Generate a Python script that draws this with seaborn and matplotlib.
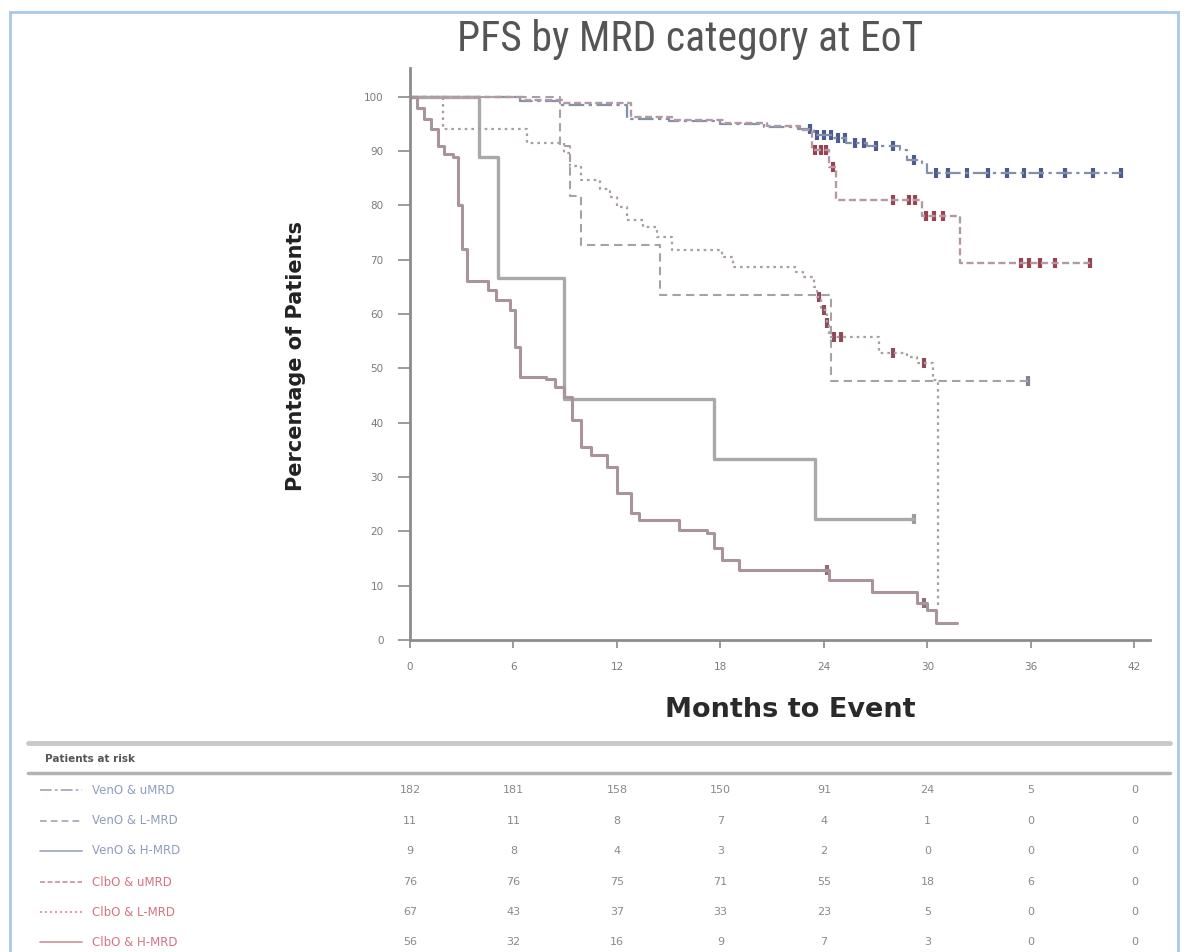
import numpy as np
import pandas as pd
import matplotlib
matplotlib.use("Agg")
import matplotlib.pyplot as plt
import matplotlib.transforms as mtransforms
from matplotlib.patches import Rectangle
from matplotlib.lines import Line2D
from matplotlib import font_manager
import seaborn as sns

# ---------------- data ----------------
title = "PFS by MRD category at EoT"
xlabel = "Months to Event"
ylabel = "Percentage of Patients"
groups = ["VenO & uMRD", "VenO & L-MRD", "VenO & H-MRD",
          "ClbO & uMRD", "ClbO & L-MRD", "ClbO & H-MRD"]

x_ticks = [0, 6, 12, 18, 24, 30, 36, 42]
y_ticks = [0, 10, 20, 30, 40, 50, 60, 70, 80, 90, 100]

veno_umrd_t = [0, 6.4, 8.7, 12.6, 15, 18, 20.5, 22.5, 23.4, 24.5, 25.3, 26.5, 28.4, 28.8, 29.7, 30.0, 41.2]
veno_umrd_s = [100, 99.3, 98.5, 96, 95.5, 95, 94.5, 94, 93, 92.5, 91.5, 91, 90.2, 88.4, 87.8, 86, 86]
veno_umrd_c = [23.2, 23.6, 24.0, 24.4, 24.8, 25.2, 25.8, 26.3, 27.0, 28.0, 29.2, 30.5, 31.2, 32.3, 33.5, 34.6, 35.6, 36.6, 38.0, 39.6, 41.2]

veno_lmrd_t = [0, 8.7, 9.3, 9.9, 14.5, 24.4, 35.8]
veno_lmrd_s = [100, 90.9, 81.8, 72.7, 63.6, 47.7, 47.7]
veno_lmrd_c = [35.8]

veno_hmrd_t = [0, 4.0, 5.1, 8.9, 17.6, 23.5, 29.2]
veno_hmrd_s = [100, 88.9, 66.7, 44.4, 33.3, 22.2, 22.2]
veno_hmrd_c = [29.2]

clbo_umrd_t = [0, 6.6, 8.9, 12.8, 15.2, 18.2, 20.7, 22.6, 23.3, 24.3, 24.7, 29.7, 31.9, 39.4]
clbo_umrd_s = [100, 99.5, 98.8, 96.3, 95.7, 95.2, 94.6, 93.8, 90.2, 87, 81, 78, 69.4, 69.4]
clbo_umrd_c = [23.5, 23.8, 24.1, 24.5, 28.0, 28.9, 29.3, 29.9, 30.4, 30.9, 35.4, 35.9, 36.5, 37.4, 39.4]

clbo_lmrd_t = [0, 1.9, 6.8, 8.9, 9.3, 9.9, 11.0, 11.6, 12.0, 12.6, 13.5, 14.3, 15.2, 18.1, 18.7,
               22.4, 22.8, 23.4, 23.6, 23.8, 24.2, 24.3, 27.2, 28.8, 29.4, 30.3, 30.6]
clbo_lmrd_s = [100, 94, 91.5, 89.7, 87.3, 84.6, 83.0, 81.6, 79.7, 77.3, 76, 74.2, 71.8, 70.5, 68.7,
               67.8, 66.9, 65, 63.2, 60.8, 58.4, 55.8, 52.9, 52.1, 51, 47.9, 6]
clbo_lmrd_c = [23.7, 24.0, 24.2, 24.6, 25.0, 28.0, 29.8]

clbo_hmrd_t = [0, 0.4, 0.8, 1.2, 1.6, 2.0, 2.5, 2.8, 3.0, 3.3, 4.5, 5.0, 5.8, 6.1, 6.4, 7.9, 8.4, 8.9,
               9.4, 9.9, 10.5, 11.4, 12.0, 12.8, 13.3, 15.6, 17.2, 17.6, 18.1, 19.1, 24.3, 26.8,
               29.4, 30.0, 30.5, 31.7]
clbo_hmrd_s = [100, 98, 96, 94, 91, 89.5, 89, 80, 72, 66, 64.5, 62.5, 60.8, 54, 48.5, 48, 46.5, 44.8,
               40.5, 35.5, 34, 31.9, 27, 23.4, 22, 20.3, 19.7, 17, 14.7, 12.9, 11, 8.8,
               6.8, 5.5, 3.1, 3.1]
clbo_hmrd_c = [24.2, 29.8]

risk_veno_umrd = [182, 181, 158, 150, 91, 24, 5, 0]
risk_veno_lmrd = [11, 11, 8, 7, 4, 1, 0, 0]
risk_veno_hmrd = [9, 8, 4, 3, 2, 0, 0, 0]
risk_clbo_umrd = [76, 76, 75, 71, 55, 18, 6, 0]
risk_clbo_lmrd = [67, 43, 37, 33, 23, 5, 0, 0]
risk_clbo_hmrd = [56, 32, 16, 9, 7, 3, 0, 0]

# ---------------- styling ----------------
sns.set_style("white")
plt.rcParams["font.family"] = ["DejaVu Sans"]

installed = {f.name for f in font_manager.fontManager.ttflist}
title_family = [f for f in ["Liberation Sans Narrow", "Roboto Condensed", "Lato", "DejaVu Sans"]
                if f in installed]

W, H = 1189, 952
fig = plt.figure(figsize=(W / 100, H / 100), dpi=100)

def fx(px):
    return px / W

def fy(py):
    return 1 - py / H

ax = fig.add_axes([fx(410), fy(640), fx(1150) - fx(410), fy(68) - fy(640)])

curves = [
    (veno_umrd_t, veno_umrd_s, veno_umrd_c, "#8390ab", (0, (7, 2, 1.5, 2)), 1.6, "#2d3f7c"),
    (veno_lmrd_t, veno_lmrd_s, veno_lmrd_c, "#a3a3a3", (0, (4, 2.5)), 1.5, "#6d6d80"),
    (veno_hmrd_t, veno_hmrd_s, veno_hmrd_c, "#a9a9a9", "-", 2.4, "#8a8a8a"),
    (clbo_umrd_t, clbo_umrd_s, clbo_umrd_c, "#b39aa2", (0, (3, 1.5)), 1.7, "#8a1f32"),
    (clbo_lmrd_t, clbo_lmrd_s, clbo_lmrd_c, "#ab9ea4", (0, (1.2, 1.8)), 1.6, "#7b2b3d"),
    (clbo_hmrd_t, clbo_hmrd_s, clbo_hmrd_c, "#a8949a", "-", 2.2, "#7b5560"),
]

for t, s, c, lc, ls, lw, mc in curves:
    df = pd.DataFrame({"month": t, "pct": s})
    sns.lineplot(data=df, x="month", y="pct", drawstyle="steps-post", estimator=None,
                 sort=False, color=lc, linestyle=ls, linewidth=lw, ax=ax, legend=False)
    if c:
        idx = np.searchsorted(np.asarray(t), np.asarray(c), side="right") - 1
        cy = np.asarray(s)[idx]
        sns.scatterplot(x=c, y=cy, marker="|", s=60, color=mc, linewidth=3.0, alpha=0.85,
                        ax=ax, legend=False)

ax.set_xlim(0, 42.9)
ax.set_ylim(0, 105.3)
ax.set_xticks(x_ticks)
ax.set_yticks(y_ticks)
ax.set_xticklabels([str(v) for v in x_ticks], fontsize=7.5, color="#7a7a7a")
ax.set_yticklabels([str(v) for v in y_ticks], fontsize=7.5, color="#7a7a7a")
ax.tick_params(axis="y", direction="out", length=9, width=1.2, color="#8a8a8a", pad=10, left=True)
ax.tick_params(axis="x", direction="out", length=6, width=1.2, color="#8a8a8a", pad=10, bottom=True)
for side in ["top", "right"]:
    ax.spines[side].set_visible(False)
for side in ["left", "bottom"]:
    ax.spines[side].set_color("#8c8c8c")
    ax.spines[side].set_linewidth(2.0)
ax.set_xlabel("")
ax.set_ylabel("")

# axis titles
fig.text(fx(790), fy(710), xlabel, ha="center", va="center", fontsize=19.5,
         fontweight="bold", color="#2a2a2a")
fig.text(fx(296), fy(356), ylabel, ha="center", va="center", rotation=90, fontsize=15,
         fontweight="bold", color="#222222")

# title
fig.text(fx(690), fy(40), title, ha="center", va="center", fontsize=30,
         family=title_family, color="#555555")

# frame
fig.patches.append(Rectangle((fx(10), -0.05), fx(1178) - fx(10), fy(12) + 0.05,
                             transform=fig.transFigure, fill=False,
                             edgecolor="#a9c9e6", linewidth=2.0))

# patients at risk table
fig.lines.append(Line2D([fx(28), fx(1170)], [fy(743), fy(743)], transform=fig.transFigure,
                        color="#c9c9c9", linewidth=3.5))
fig.lines.append(Line2D([fx(28), fx(1170)], [fy(773), fy(773)], transform=fig.transFigure,
                        color="#b3b3b3", linewidth=2.5))
fig.text(fx(45), fy(759), "Patients at risk", ha="left", va="center", fontsize=7.5,
         fontweight="bold", color="#555555")

risk_rows = [risk_veno_umrd, risk_veno_lmrd, risk_veno_hmrd,
             risk_clbo_umrd, risk_clbo_lmrd, risk_clbo_hmrd]
row_y = [790, 821, 851, 882, 912, 942]
label_colors = ["#8e9dbd", "#8e9dbd", "#8e9dbd", "#d57482", "#d57482", "#d57482"]
sample_colors = ["#9aa3b8", "#9aa3b8", "#9aa3b8", "#cf8f9a", "#cf8f9a", "#cf8f9a"]
trans = mtransforms.blended_transform_factory(ax.transData, fig.transFigure)
for i, (row, py) in enumerate(zip(risk_rows, row_y)):
    ls = curves[i][4]
    fig.lines.append(Line2D([fx(40), fx(82)], [fy(py), fy(py)], transform=fig.transFigure,
                            color=sample_colors[i], linewidth=1.2, linestyle=ls))
    fig.text(fx(92), fy(py), groups[i], ha="left", va="center", fontsize=8.5,
             color=label_colors[i])
    for m, v in zip(x_ticks, row):
        fig.text(m, fy(py), str(v), transform=trans, ha="center", va="center",
                 fontsize=8, color="#8a8a8a")

fig.savefig("out.png", dpi=100, facecolor="white")
